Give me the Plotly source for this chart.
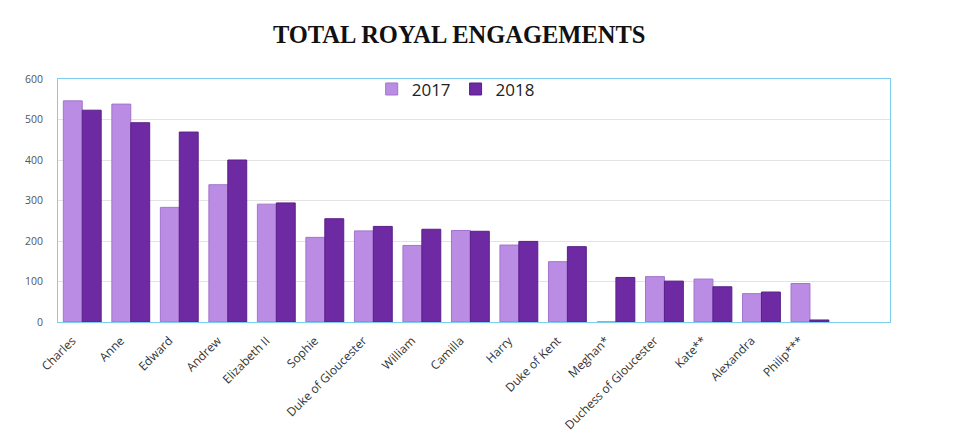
import plotly.graph_objects as go

categories = ["Charles", "Anne", "Edward", "Andrew", "Elizabeth II", "Sophie",
              "Duke of Gloucester", "William", "Camilla", "Harry", "Duke of Kent",
              "Meghan*", "Duchess of Gloucester", "Kate**", "Alexandra", "Philip***"]
values_2017 = [546, 538, 283, 339, 291, 209, 225, 189, 226, 190, 149, 0, 112, 106, 70, 95]
values_2018 = [523, 492, 469, 400, 294, 255, 236, 229, 224, 199, 186, 110, 101, 87, 74, 5]
y_ticks = [0, 100, 200, 300, 400, 500, 600]

fig = go.Figure()
fig.add_trace(go.Bar(name="2017", x=categories, y=values_2017,
                     marker=dict(color="#bb8ce3", line=dict(color="#a274cc", width=1))))
fig.add_trace(go.Bar(name="2018", x=categories, y=values_2018,
                     marker=dict(color="#6e2aa3", line=dict(color="#5a1f88", width=1))))

fig.update_layout(
    width=960, height=435,
    paper_bgcolor="white", plot_bgcolor="white",
    margin=dict(l=50, r=78, t=71, b=121),
    barmode="group", bargap=0.22, bargroupgap=0.0,
    title=dict(text="<b>TOTAL ROYAL ENGAGEMENTS</b>", x=0.47, xanchor="center",
               xref="container", y=0.94, yanchor="middle",
               font=dict(family="Liberation Serif", size=24.5, color="#111111")),
    legend=dict(orientation="h", x=0.478, xanchor="center", y=0.957, yanchor="middle",
                font=dict(family="Open Sans", size=17, color="#222222"),
                bgcolor="rgba(0,0,0,0)"),
    font=dict(family="Open Sans", color="#444444"),
)
fig.update_xaxes(
    range=[-0.5, 16.65], tickangle=-45, automargin=False,
    tickfont=dict(family="Open Sans", size=12, color="#333333"),
    showgrid=False, showline=True, linecolor="#7fcdee", linewidth=1, mirror=True,
    ticks="", ticklabelshift=-10, ticklabelstandoff=6,
)
fig.update_yaxes(
    range=[0, 600], tickvals=y_ticks, automargin=False,
    tickfont=dict(family="Open Sans", size=10.5, color="#555555"),
    showgrid=True, gridcolor="#e3e3e3", gridwidth=1,
    showline=True, linecolor="#7fcdee", linewidth=1, mirror=True,
    zeroline=False, ticks="", ticklabelstandoff=12,
)

fig.write_html("out.html")
